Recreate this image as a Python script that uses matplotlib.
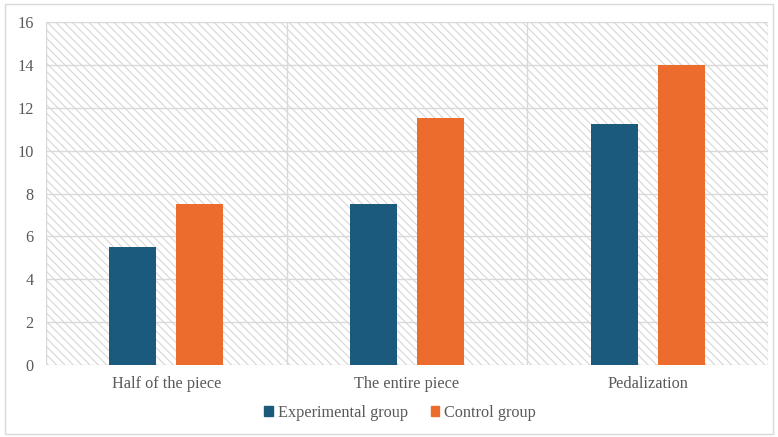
import matplotlib
matplotlib.use("Agg")
import matplotlib.pyplot as plt
from matplotlib.patches import Rectangle
import numpy as np

categories = ["Half of the piece", "The entire piece", "Pedalization"]
experimental = [5.5, 7.5, 11.25]
control = [7.5, 11.5, 14.0]
series_names = ["Experimental group", "Control group"]
y_ticks = [0, 2, 4, 6, 8, 10, 12, 14, 16]

BLUE = "#1B5A7D"
ORANGE = "#EB6C2C"
GRID = "#D9D9D9"
TEXT = "#595959"
FS = 11.7

plt.rcParams["font.family"] = ["Liberation Serif", "DejaVu Serif"]
plt.rcParams["hatch.linewidth"] = 0.8

fig = plt.figure(figsize=(7.78, 4.37), dpi=100)
ax = fig.add_axes([46 / 778, (437 - 365) / 437, (768 - 46) / 778, (365 - 22) / 437])

# chart frame around the whole figure
fig.patches.append(Rectangle((5 / 778, 3 / 437), 768 / 778, 430 / 437,
                             transform=fig.transFigure, fill=False,
                             edgecolor=GRID, linewidth=1.0))

x = np.arange(len(categories))
ax.set_xlim(-0.5, len(categories) - 0.5)
ax.set_ylim(0, 16)

# hatched plot-area background
ax.add_patch(Rectangle((0, 0), 1, 1, transform=ax.transAxes, facecolor="white",
                       edgecolor="#D6D6D6", hatch="\\\\\\\\", linewidth=0, zorder=0))

# gridlines
for yv in y_ticks[1:]:
    ax.axhline(yv, color=GRID, linewidth=1.0, zorder=1)
for xv in np.arange(-0.5, len(categories), 1.0):
    ax.axvline(xv, color=GRID, linewidth=1.0, zorder=1)

w = 0.195
off = 0.139
ax.bar(x - off, experimental, w, color=BLUE, label=series_names[0], zorder=3)
ax.bar(x + off, control, w, color=ORANGE, label=series_names[1], zorder=3)

for s in ax.spines.values():
    s.set_visible(False)
ax.axhline(0, color=GRID, linewidth=1.0, zorder=2)

ax.set_yticks(y_ticks)
ax.set_yticklabels([str(v) for v in y_ticks], fontsize=FS, color=TEXT)
ax.set_xticks(x)
ax.set_xticklabels(categories, fontsize=FS, color=TEXT)
ax.tick_params(axis="both", length=0)
ax.tick_params(axis="y", pad=9)
ax.tick_params(axis="x", pad=8)

handles = [Rectangle((0, 0), 1, 1, color=BLUE), Rectangle((0, 0), 1, 1, color=ORANGE)]
fig.legend(handles, series_names, loc="center", bbox_to_anchor=(400 / 778, (437 - 413) / 437),
           ncol=2, frameon=False, fontsize=FS, labelcolor=TEXT,
           handlelength=0.55, handleheight=0.55, handletextpad=0.3, columnspacing=1.4)

fig.savefig("out.png", dpi=100)
